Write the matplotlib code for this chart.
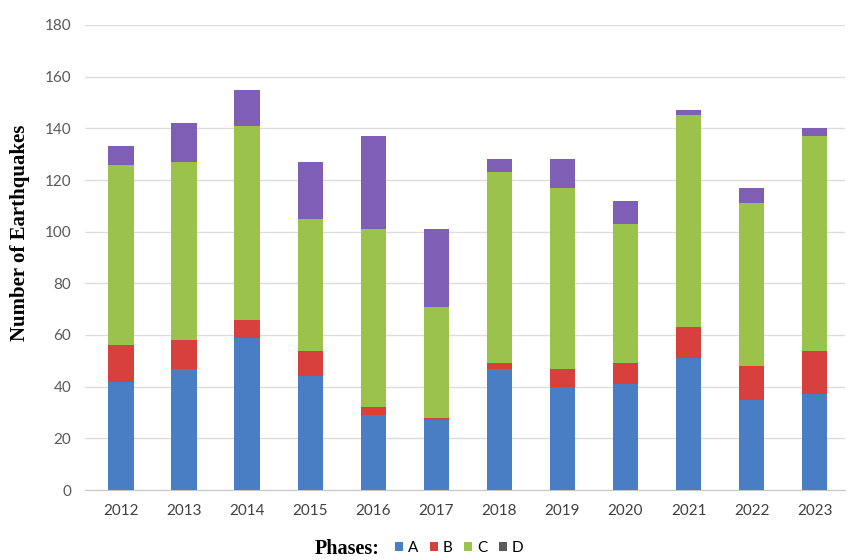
import numpy as np
import matplotlib as mpl
mpl.use('Agg')
import matplotlib.pyplot as plt
from matplotlib.patches import Patch

# data
years   = ['2012','2013','2014','2015','2016','2017',
           '2018','2019','2020','2021','2022','2023']
phase_a = [42, 47, 59, 44, 29, 27, 47, 40, 41, 51, 35, 37]
phase_b = [14, 11,  7, 10,  3,  1,  2,  7,  8, 12, 13, 17]
phase_c = [70, 69, 75, 51, 69, 43, 74, 70, 54, 82, 63, 83]
phase_d = [ 7, 15, 14, 22, 36, 30,  5, 11,  9,  2,  6,  3]
phases  = ['A', 'B', 'C', 'D']

colors     = ['#4a7ec4', '#d8403e', '#9bc34b', '#7f5fb5']
leg_colors = ['#4a7ec4', '#d8403e', '#9bc34b', '#5a5a5a']

ftsize = 11

fig = plt.figure(figsize=(8.48, 5.6), dpi=100)
ax = fig.add_axes([85/848, 70/560, 760/848, 465/560])

x = np.arange(len(years))
bottom = np.zeros(len(years))
for vals, c in zip([phase_a, phase_b, phase_c, phase_d], colors):
    ax.bar(x, vals, width=0.4, bottom=bottom, color=c, zorder=3)
    bottom = bottom + np.array(vals)

ax.set_xlim(-0.57, 11.48)
ax.set_ylim(0, 180)
ax.set_yticks(np.arange(0, 181, 20))
ax.set_xticks(x)
ax.set_xticklabels(years)
ax.grid(axis='y', color='#dcdcdc', linewidth=1.0, zorder=0)
for s in ['top', 'right', 'left']:
    ax.spines[s].set_visible(False)
ax.spines['bottom'].set_color('#c8c8c8')
ax.tick_params(axis='both', length=0, labelsize=ftsize)
ax.tick_params(axis='y', pad=10, labelcolor='#595959')
ax.tick_params(axis='x', pad=10, labelcolor='#404040')
for lab in ax.get_xticklabels() + ax.get_yticklabels():
    lab.set_family('Lato')

fig.text(20/848, 1 - 233/560, 'Number of Earthquakes', rotation=90,
         ha='center', va='center', family='Liberation Serif',
         weight='bold', fontsize=15)

fig.text(315/848, 1 - 549/560, 'Phases:', ha='left', va='center',
         family='Liberation Serif', weight='bold', fontsize=14.5)
handles = [Patch(facecolor=c, label=p) for c, p in zip(leg_colors, phases)]
fig.legend(handles=handles, ncol=4, loc='center left',
           bbox_to_anchor=(395/848, 1 - 548/560), frameon=False,
           handlelength=0.55, handleheight=0.55, handletextpad=0.3,
           columnspacing=0.75, borderaxespad=0, borderpad=0,
           prop={'family': 'Lato', 'size': 11})

plt.savefig('out.png', dpi=100)
